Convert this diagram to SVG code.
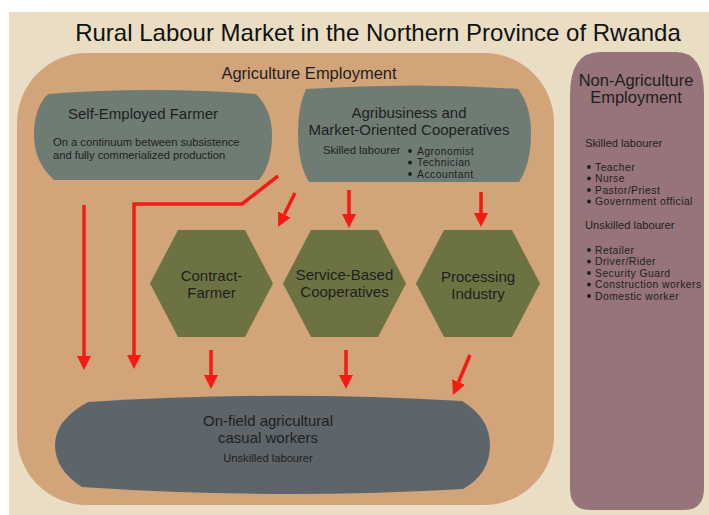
<svg xmlns="http://www.w3.org/2000/svg" width="709" height="515" viewBox="0 0 709 515">
  <defs>
    <marker id="head" viewBox="0 0 10 10" refX="0" refY="5" markerWidth="14" markerHeight="14" markerUnits="userSpaceOnUse" orient="auto">
      <path d="M0,0 L10,5 L0,10 Z" fill="#f51a12"/>
    </marker>
  </defs>
  <style>
    text { font-family: "Liberation Sans", Arial, sans-serif; fill: #1e1e1e; }
    .title { font-size: 24px; fill: #111111; }
    .h { font-size: 16.5px; text-anchor: middle; }
    .b { font-size: 15px; text-anchor: middle; }
    .s { font-size: 11.2px; }
    .li { font-size: 10.4px; letter-spacing: 0.45px; }
    .sc { font-size: 11.2px; text-anchor: middle; }
    .dot { fill: #1e1e1e; }
    .box { fill: #6e7c74; }
    .hex { fill: #6d7243; }
    .pool { fill: #5d656a; }
    .arrow { fill: none; stroke: #f51a12; stroke-width: 3.5; marker-end: url(#head); }
  </style>

  <!-- page -->
  <rect x="0" y="0" width="709" height="515" fill="#ffffff"/>
  <rect x="9" y="12" width="700" height="503" fill="#e9dec3"/>

  <text class="title" x="378" y="41" text-anchor="middle">Rural Labour Market in the Northern Province of Rwanda</text>

  <!-- agriculture panel -->
  <g id="agriculture">
    <rect x="17" y="53" width="537" height="452" rx="70" ry="70" fill="#d2a47a"/>
    <text class="h" x="309" y="79">Agriculture Employment</text>
  </g>

  <!-- non-agriculture panel -->
  <g id="non-agriculture">
    <path d="M600,52 L676,52 Q704,52 704,95 L704,488 Q704,510 684,510 L590,510 Q570,510 570,488 L570,95 Q570,52 600,52 Z" fill="#96747a"/>
    <text class="h" x="636" y="86">Non-Agriculture</text>
    <text class="h" x="636" y="103">Employment</text>
    <text class="s" x="585" y="147">Skilled labourer</text>
    <g>
      <circle class="dot" cx="589" cy="167" r="1.9"/>
      <circle class="dot" cx="589" cy="178.5" r="1.9"/>
      <circle class="dot" cx="589" cy="190" r="1.9"/>
      <circle class="dot" cx="589" cy="201.5" r="1.9"/>
      <text class="li" x="595" y="170.5">Teacher</text>
      <text class="li" x="595" y="182">Nurse</text>
      <text class="li" x="595" y="193.5">Pastor/Priest</text>
      <text class="li" x="595" y="205">Government official</text>
    </g>
    <text class="s" x="585" y="229">Unskilled labourer</text>
    <g>
      <circle class="dot" cx="589" cy="250" r="1.9"/>
      <circle class="dot" cx="589" cy="261.5" r="1.9"/>
      <circle class="dot" cx="589" cy="273" r="1.9"/>
      <circle class="dot" cx="589" cy="284.5" r="1.9"/>
      <circle class="dot" cx="589" cy="296" r="1.9"/>
      <text class="li" x="595" y="253.5">Retailer</text>
      <text class="li" x="595" y="265">Driver/Rider</text>
      <text class="li" x="595" y="276.5">Security Guard</text>
      <text class="li" x="595" y="288">Construction workers</text>
      <text class="li" x="595" y="299.5">Domestic worker</text>
    </g>
  </g>

  <!-- self-employed farmer -->
  <g id="self-employed">
    <path class="box" d="M48,94 Q152,86 256,94 Q272,110 272,135 Q272,164 259,180 L54,180 Q34,162 34,135 Q34,108 48,94 Z"/>
    <text class="b" x="143" y="119">Self-Employed Farmer</text>
    <text class="s" x="53" y="146">On a continuum between subsistence</text>
    <text class="s" x="53" y="159">and fully commerialized production</text>
  </g>

  <!-- agribusiness -->
  <g id="agribusiness">
    <path class="box" d="M306,89 Q412,82 518,89 Q531,106 531,133 Q531,164 519,182 L309,182 Q298,164 298,133 Q298,106 306,89 Z"/>
    <text class="b" x="409" y="118">Agribusiness and</text>
    <text class="b" x="409" y="135">Market-Oriented Cooperatives</text>
    <text class="s" x="323" y="154">Skilled labourer</text>
    <circle class="dot" cx="410" cy="151" r="1.9"/>
    <circle class="dot" cx="410" cy="162.5" r="1.9"/>
    <circle class="dot" cx="410" cy="174" r="1.9"/>
    <text class="li" x="417" y="154.5">Agronomist</text>
    <text class="li" x="417" y="166">Technician</text>
    <text class="li" x="417" y="177.5">Accountant</text>
  </g>

  <!-- hexagon nodes -->
  <g id="contract-farmer">
    <polygon class="hex" points="150,283.5 178,230 245,230 273,283.5 245,337 178,337"/>
    <text class="b" x="211.5" y="281">Contract-</text>
    <text class="b" x="211.5" y="297.5">Farmer</text>
  </g>
  <g id="service-cooperatives">
    <polygon class="hex" points="283,283.5 311,230 378,230 406,283.5 378,337 311,337"/>
    <text class="b" x="344.5" y="280">Service-Based</text>
    <text class="b" x="344.5" y="296.5">Cooperatives</text>
  </g>
  <g id="processing-industry">
    <polygon class="hex" points="416,283.5 444,230 512,230 540,283.5 512,337 444,337"/>
    <text class="b" x="478" y="281.5">Processing</text>
    <text class="b" x="478" y="298.5">Industry</text>
  </g>

  <!-- casual workers -->
  <g id="casual-workers">
    <path class="pool" d="M88,402 Q275,390 462,401 Q490,418 490,445 Q490,474 463,489 Q275,500 82,487 Q55,470 55,445 Q55,420 88,402 Z"/>
    <text class="b" x="268" y="426">On-field agricultural</text>
    <text class="b" x="268" y="442.5">casual workers</text>
    <text class="sc" x="268" y="462">Unskilled labourer</text>
  </g>

  <!-- connectors -->
  <g id="connectors">
    <path class="arrow" d="M84,205 L84,356"/>
    <path class="arrow" d="M278,176 L242,204 L134,204 L134,355"/>
    <path class="arrow" d="M295,193 L284.3,214.5"/>
    <path class="arrow" d="M349,190 L349,214"/>
    <path class="arrow" d="M481,192 L481,213"/>
    <path class="arrow" d="M211,350 L211,375"/>
    <path class="arrow" d="M346,350 L346,375"/>
    <path class="arrow" d="M470,355 L458.5,382"/>
  </g>
</svg>
